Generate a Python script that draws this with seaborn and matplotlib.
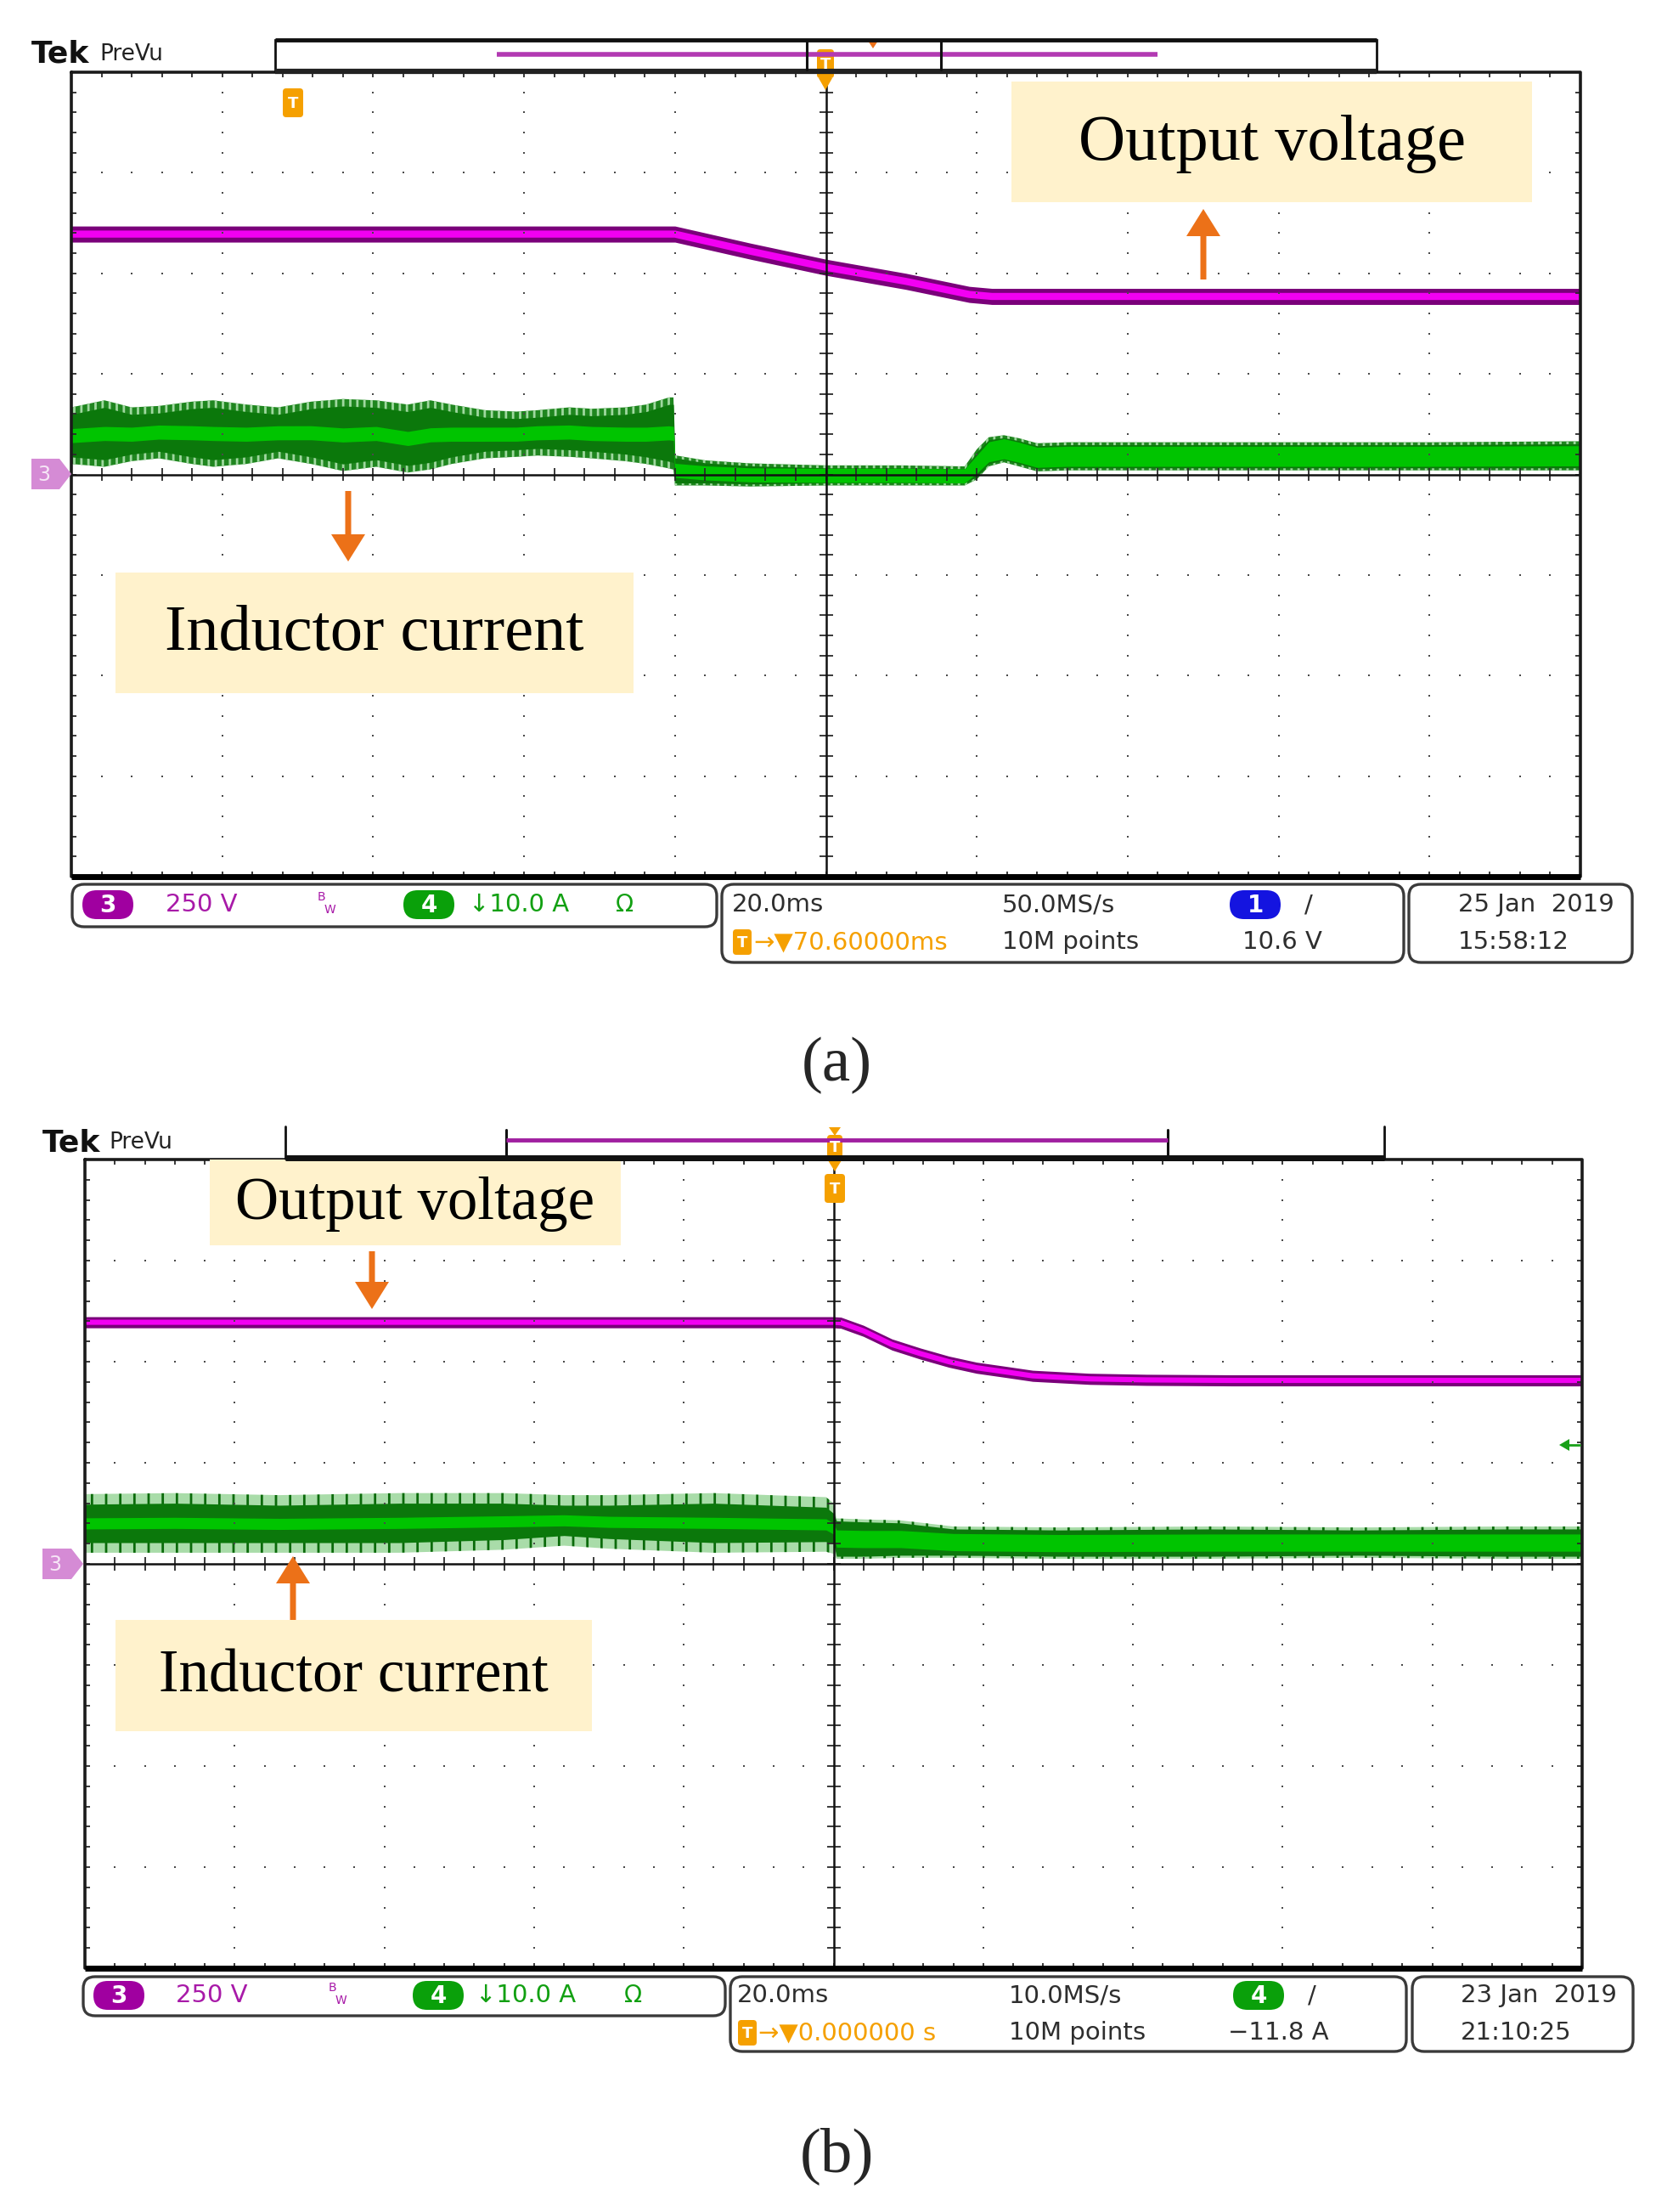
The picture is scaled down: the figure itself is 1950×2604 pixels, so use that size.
import numpy as np
import pandas as pd
import matplotlib
matplotlib.use("Agg")
import matplotlib.pyplot as plt
import seaborn as sns
from matplotlib.patches import FancyBboxPatch, Polygon, Rectangle
from matplotlib.collections import LineCollection

# ---------------- data (oscilloscope divisions: x -5..5, y -4..4) ----------------
# (a) output voltage (channel 3)
ta_volt = [-5.0, -1.0, -0.5, 0.0, 0.53, 0.95, 1.1, 5.0]
va_volt = [2.39, 2.39, 2.22, 2.06, 1.92, 1.79, 1.77, 1.77]
# (a) inductor current (channel 4) envelope
ta_cur = [-5.0, -4.78, -4.60, -4.42, -4.20, -4.06, -3.84, -3.63, -3.41, -3.20,
          -2.98, -2.77, -2.62, -2.48, -2.26, -2.05, -1.91, -1.70, -1.55, -1.33,
          -1.19, -1.04, -1.01, -1.0, -0.8, -0.5, 0.0, 0.5, 0.92, 1.0,
          1.08, 1.18, 1.28, 1.40, 1.6, 2.0, 3.0, 4.0, 5.0]
ia_up = [0.667, 0.737, 0.667, 0.681, 0.724, 0.737, 0.695, 0.667, 0.724, 0.750,
         0.737, 0.695, 0.737, 0.695, 0.639, 0.625, 0.639, 0.667, 0.653, 0.667,
         0.695, 0.766, 0.766, 0.19, 0.14, 0.11, 0.09, 0.09, 0.08, 0.25,
         0.37, 0.39, 0.36, 0.31, 0.32, 0.32, 0.32, 0.32, 0.33]
ia_lo = [0.104, 0.076, 0.132, 0.160, 0.104, 0.076, 0.104, 0.160, 0.104, 0.034,
         0.076, 0.019, 0.050, 0.104, 0.160, 0.175, 0.188, 0.175, 0.160, 0.132,
         0.104, 0.060, 0.048, -0.11, -0.11, -0.12, -0.11, -0.11, -0.11, -0.05,
         0.08, 0.12, 0.08, 0.03, 0.04, 0.04, 0.04, 0.04, 0.04]
ia_whisk = [0.07] * 23 + [0.025] * 16
ia_core = [0.07] * 29 + [0.09, 0.1, 0.1, 0.1, 0.1, 0.1, 0.1, 0.1, 0.1, 0.1]

# (b) output voltage
tb_volt = [-5.0, 0.0, 0.05, 0.2, 0.39, 0.58, 0.77, 0.955, 1.145, 1.33, 1.71, 2.09, 2.66, 3.5, 5.0]
vb_volt = [2.39, 2.39, 2.385, 2.305, 2.17, 2.08, 2.00, 1.94, 1.90, 1.86, 1.83, 1.82, 1.815, 1.815, 1.815]
# (b) inductor current envelope
tb_cur = [-5.0, -4.4, -3.7, -2.9, -2.2, -1.8, -1.5, -0.8, -0.05, 0.0,
          0.02, 0.2, 0.45, 0.8, 1.5, 2.5, 3.5, 4.5, 5.0]
ib_up = [0.69, 0.70, 0.68, 0.70, 0.70, 0.68, 0.68, 0.70, 0.66, 0.60,
         0.45, 0.44, 0.43, 0.37, 0.36, 0.37, 0.36, 0.37, 0.37]
ib_lo = [0.11, 0.11, 0.11, 0.11, 0.14, 0.18, 0.15, 0.11, 0.12, 0.10,
         0.05, 0.05, 0.06, 0.06, 0.05, 0.05, 0.06, 0.05, 0.05]
ib_whisk = [0.10] * 10 + [0.025] * 9
ib_core = [0.055] * 10 + [0.085] * 9

# status-bar texts
status_a = {"ch3": "250 V", "ch4": "\u219310.0 A", "tb": "20.0ms", "rate": "50.0MS/s",
            "trig_ch": "1", "pos": "\u2192\u25bc70.60000ms", "pts": "10M points",
            "lvl": "10.6 V", "date": "25 Jan  2019", "time": "15:58:12"}
status_b = {"ch3": "250 V", "ch4": "\u219310.0 A", "tb": "20.0ms", "rate": "10.0MS/s",
            "trig_ch": "4", "pos": "\u2192\u25bc0.000000 s", "pts": "10M points",
            "lvl": "\u221211.8 A", "date": "23 Jan  2019", "time": "21:10:25"}

# ---------------- figure ----------------
sns.set_theme(style="white")
plt.rcParams["font.family"] = ["DejaVu Sans"]
plt.rcParams["hatch.linewidth"] = 2.0

W, H = 1950, 2604
fig = plt.figure(figsize=(W / 100, H / 100), dpi=100)
fig.patch.set_facecolor("white")


def px_axes(x0, y0, x1, y1, **kw):
    return fig.add_axes([x0 / W, 1 - y1 / H, (x1 - x0) / W, (y1 - y0) / H], **kw)


def graticule(ax, dxp, dyp):
    ax.set_xlim(-5, 5)
    ax.set_ylim(-4, 4)
    ax.axis("off")
    posx = np.round(np.arange(-5, 5.001, 0.2), 3)
    posy = np.round(np.arange(-4, 4.001, 0.2), 3)
    xs, ys = [], []
    for gx in range(-4, 5):
        if gx == 0:
            continue
        for p in posy[1:-1]:
            xs.append(gx)
            ys.append(p)
    for gy in range(-3, 4):
        if gy == 0:
            continue
        for p in posx[1:-1]:
            xs.append(p)
            ys.append(gy)
    ax.scatter(xs, ys, s=3.5, marker="s", color="#4a4a4a", linewidths=0, zorder=5)
    ty, tx = 8 / dyp, 8 / dxp
    by, bx = 6 / dyp, 6 / dxp
    segs = [[(p, -ty), (p, ty)] for p in posx] + [[(-tx, p), (tx, p)] for p in posy]
    segs += [[(p, 4), (p, 4 - by)] for p in posx] + [[(p, -4), (p, -4 + by)] for p in posx]
    segs += [[(-5, p), (-5 + bx, p)] for p in posy] + [[(5, p), (5 - bx, p)] for p in posy]
    ax.add_collection(LineCollection(segs, colors="#2a2a2a", linewidths=1.3, zorder=5))
    ax.axhline(0, color="#111111", lw=1.8, zorder=5)
    ax.axvline(0, color="#111111", lw=1.8, zorder=5)
    ax.plot([-5, 5, 5, -5, -5], [4, 4, -4, -4, 4], color="#1a1a1a", lw=2.6,
            clip_on=False, zorder=6)
    ax.plot([-5, 5], [-4, -4], color="#000000", lw=5, clip_on=False,
            solid_capstyle="butt", zorder=6)


def voltage(ax, t, v, hw, core_lw):
    t = np.asarray(t)
    v = np.asarray(v)
    ax.fill_between(t, v - hw, v + hw, color="#7a007a", lw=0, zorder=2)
    sns.lineplot(x=t, y=v, ax=ax, color="#f200f2", linewidth=core_lw, zorder=3,
                 legend=False)


def current(ax, t, up, lo, whisk, core, face, hatch_col, hatch):
    t = np.asarray(t)
    up = np.asarray(up)
    lo = np.asarray(lo)
    whisk = np.asarray(whisk)
    core = np.asarray(core)
    mid = (up + lo) / 2
    ax.fill_between(t, lo, up, facecolor=face, edgecolor=hatch_col,
                    hatch=hatch, lw=0, zorder=2)
    ax.fill_between(t, lo + whisk, up - whisk, color="#0b780b", lw=0, zorder=2.2)
    ax.fill_between(t, mid - core, mid + core, color="#00c400", lw=0, zorder=2.4)


# panel (a)
axa = px_axes(84, 85, 1861, 1032)
current(axa, ta_cur, ia_up, ia_lo, ia_whisk, ia_core, "#1f861f", "#9fd89f", "||")
voltage(axa, ta_volt, va_volt, 0.08, 6.0)
graticule(axa, 177.7, 118.4)

# panel (b)
axb = px_axes(100, 1365, 1863, 2317)
current(axb, tb_cur, ib_up, ib_lo, ib_whisk, ib_core, "#a9dca9", "#0a6a0a", "|")
voltage(axb, tb_volt, vb_volt, 0.055, 4.4)
graticule(axb, 176.3, 119.0)

# ---------------- overlay (pixel coordinates) ----------------
ov = fig.add_axes([0, 0, 1, 1], zorder=10)
ov.set_xlim(0, W)
ov.set_ylim(H, 0)
ov.axis("off")
ov.patch.set_alpha(0)

ORANGE = "#EC7118"
TORANGE = "#F5A000"
PURPLE = "#A81AA8"
GREEN = "#12A012"
DARK = "#2e2e2e"
SERIF = ["Liberation Serif", "DejaVu Serif"]


def label_box(x0, y0, x1, y1, text, fs):
    ov.add_patch(Rectangle((x0, y0), x1 - x0, y1 - y0, fc="#FFF2CC", ec="none"))
    ov.text((x0 + x1) / 2, (y0 + y1) / 2 + 2, text, ha="center", va="center",
            fontsize=fs, family=SERIF, color="black")


def arrow(x, y_tail, y_tip):
    ov.arrow(x, y_tail, 0, y_tip - y_tail, width=7, head_width=40, head_length=32,
             length_includes_head=True, fc=ORANGE, ec="none")


def rbox(x0, y0, x1, y1):
    ov.add_patch(FancyBboxPatch((x0, y0), x1 - x0, y1 - y0,
                                boxstyle="round,pad=0,rounding_size=14",
                                fc="none", ec="#3a3a3a", lw=2.4))


def pill(x, y, color, label):
    w, h = 60, 34
    ov.add_patch(FancyBboxPatch((x - w / 2, y - h / 2), w, h,
                                boxstyle=f"round,pad=0,rounding_size={h / 2}",
                                fc=color, ec="none"))
    ov.text(x, y + 1, label, color="white", ha="center", va="center",
            fontsize=20, fontweight="bold")


def tmark(x, y0, h=30, w=22):
    ov.add_patch(FancyBboxPatch((x - w / 2, y0), w, h,
                                boxstyle="round,pad=0,rounding_size=4",
                                fc=TORANGE, ec="none"))
    ov.text(x, y0 + h / 2 + 1, "T", color="white", ha="center", va="center",
            fontsize=13, fontweight="bold")


def tri_down(x, y0, h=12, w=16, color=TORANGE):
    ov.add_patch(Polygon([(x - w / 2, y0), (x + w / 2, y0), (x, y0 + h)],
                         closed=True, fc=color, ec="none"))


def gnd_marker(xl, xr, yc):
    ov.add_patch(Polygon([(xl, yc - 18), (xr - 14, yc - 18), (xr, yc),
                          (xr - 14, yc + 18), (xl, yc + 18)], closed=True,
                         fc="#D58BD5", ec="none"))
    ov.text(xl + 15, yc + 1, "3", color="#f6e6f6", ha="center", va="center", fontsize=17)


def status(y1, y2, boxes, st, xs, trig_color):
    (b1, b2, b3) = boxes
    rbox(*b1)
    rbox(*b2)
    rbox(*b3)
    pill(xs["p3"], y1, "#A000A0", "3")
    ov.text(xs["ch3"], y1, st["ch3"], color=PURPLE, va="center", fontsize=21)
    ov.text(xs["bw"], y1 - 9, "B", color=PURPLE, va="center", fontsize=10)
    ov.text(xs["bw"] + 8, y1 + 6, "W", color=PURPLE, va="center", fontsize=10)
    pill(xs["p4"], y1, "#0AA00A", "4")
    ov.text(xs["ch4"], y1, st["ch4"], color=GREEN, va="center", fontsize=21)
    ov.text(xs["om"], y1, "\u03a9", color=GREEN, va="center", ha="center", fontsize=20)
    ov.text(xs["tb"], y1, st["tb"], color=DARK, va="center", fontsize=21)
    ov.text(xs["rate"], y1, st["rate"], color=DARK, va="center", fontsize=21)
    pill(xs["ptr"], y1, trig_color, st["trig_ch"])
    ov.text(xs["slope"], y1, "/", color=DARK, va="center", ha="center", fontsize=21)
    tmark(xs["tb"] + 12, y2 - 15, h=30, w=22)
    ov.text(xs["tb"] + 25, y2, st["pos"], color=TORANGE, va="center", fontsize=21)
    ov.text(xs["rate"], y2, st["pts"], color=DARK, va="center", fontsize=21)
    ov.text(xs["lvl"], y2, st["lvl"], color=DARK, va="center", fontsize=21)
    ov.text(xs["date"], y1, st["date"], color=DARK, va="center", fontsize=21)
    ov.text(xs["date"], y2, st["time"], color=DARK, va="center", fontsize=21)


# ---- header (a)
ov.text(37, 64, "Tek", fontsize=26, fontweight="bold", color="#111111", va="center")
ov.text(117, 64, "PreVu", fontsize=19, color="#222222", va="center")
ov.add_patch(Rectangle((324, 47), 1297, 37, fc="white", ec="#111111", lw=2.0))
ov.plot([324, 1621], [84, 84], color="#222222", lw=4.5, solid_capstyle="butt")
ov.plot([324, 1621], [47, 47], color="#111111", lw=3.5, solid_capstyle="butt")
ov.plot([585, 1363], [64, 64], color="#B23AB2", lw=4, solid_capstyle="butt")
for xb in (950, 1108):
    ov.plot([xb, xb], [49, 82], color="#111111", lw=2.2)
tri_down(1028, 48, h=9, w=12, color=ORANGE)
tmark(972, 58, h=34, w=20)
tri_down(972, 92, h=14, w=16)
tmark(345, 104, h=34, w=24)
gnd_marker(37, 84, 558)

# ---- header (b)
ov.text(50, 1345, "Tek", fontsize=26, fontweight="bold", color="#111111", va="center")
ov.text(128, 1345, "PreVu", fontsize=19, color="#222222", va="center")
ov.plot([336, 336], [1326, 1364], color="#111111", lw=2)
ov.plot([1630, 1630], [1326, 1364], color="#111111", lw=2)
ov.plot([336, 1630], [1363, 1363], color="#111111", lw=5, solid_capstyle="butt")
ov.plot([596, 596], [1330, 1362], color="#111111", lw=2.2)
ov.plot([1375, 1375], [1330, 1362], color="#111111", lw=2.2)
ov.plot([596, 1375], [1342, 1342], color="#A020A0", lw=3.5, solid_capstyle="butt")
tri_down(983, 1327, h=10, w=14)
tmark(983, 1336, h=27, w=18)
tri_down(983, 1366, h=13, w=16)
tmark(983, 1382, h=34, w=24)
gnd_marker(50, 98, 1841)
# channel-4 trigger level marker (b)
ov.add_patch(Polygon([(1836, 1701), (1848, 1694), (1848, 1708)], closed=True,
                     fc="#18A018", ec="none"))
ov.plot([1846, 1860], [1701, 1701], color="#18A018", lw=2)

# ---- status bars
status(1065, 1109,
       [(85, 1041, 844, 1091), (850, 1041, 1653, 1133), (1659, 1041, 1922, 1133)],
       status_a,
       dict(p3=127, ch3=195, bw=374, p4=505, ch4=552, om=736, tb=862, rate=1180,
            ptr=1478, slope=1541, lvl=1463, date=1717),
       "#1414E0")
status(2349, 2393,
       [(98, 2327, 854, 2373), (860, 2327, 1656, 2415), (1663, 2327, 1923, 2415)],
       status_b,
       dict(p3=140, ch3=207, bw=387, p4=516, ch4=560, om=746, tb=868, rate=1188,
            ptr=1482, slope=1545, lvl=1446, date=1720),
       "#0AA00A")

# ---- annotations
label_box(1191, 96, 1804, 238, "Output voltage", 55)
arrow(1417, 329, 246)
label_box(136, 674, 746, 816, "Inductor current", 55)
arrow(410, 578, 661)

label_box(247, 1365, 731, 1466, "Output voltage", 51)
arrow(438, 1473, 1541)
label_box(136, 1907, 697, 2038, "Inductor current", 51)
arrow(345, 1907, 1832)

ov.text(985, 1254, "(a)", ha="center", va="center", fontsize=54, family=SERIF)
ov.text(985, 2538, "(b)", ha="center", va="center", fontsize=54, family=SERIF)

fig.savefig("out.png", dpi=100, facecolor="white")
